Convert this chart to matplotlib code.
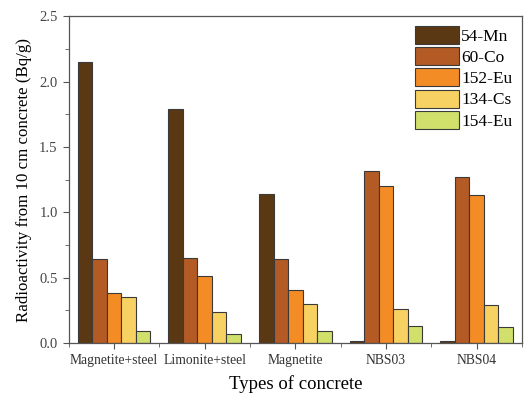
import numpy as np
import matplotlib
matplotlib.use('agg')
import matplotlib.pyplot as plt
from matplotlib.ticker import MultipleLocator, FixedLocator

concretes = ["Magnetite+steel", "Limonite+steel", "Magnetite", "NBS03", "NBS04"]
nuclides = ["54-Mn", "60-Co", "152-Eu", "134-Cs", "154-Eu"]
mn54 = [2.15, 1.79, 1.14, 0.02, 0.02]
co60 = [0.64, 0.65, 0.64, 1.32, 1.27]
eu152 = [0.38, 0.51, 0.41, 1.20, 1.13]
cs134 = [0.35, 0.24, 0.30, 0.26, 0.29]
eu154 = [0.09, 0.07, 0.09, 0.13, 0.12]
colors = ["#5b3814", "#b35a25", "#f48c26", "#f7d262", "#d0e06a"]

plt.rcParams['font.family'] = ['Liberation Serif', 'DejaVu Serif']

fig = plt.figure(figsize=(5.25, 3.94), dpi=100)
ax = fig.add_axes([0.131, 0.129, 0.863, 0.830])

x = np.arange(len(concretes))
w = 0.16
series = [mn54, co60, eu152, cs134, eu154]
for i, (vals, lab) in enumerate(zip(series, nuclides)):
    ax.bar(x + (i - 2) * w, vals, w, color=colors[i], edgecolor="#3a3a3a",
           linewidth=0.8, label=lab)

ax.set_xlim(-0.5, 4.5)
ax.set_ylim(0, 2.5)
ax.set_xticks(x)
ax.set_xticklabels(concretes, fontsize=9.8, color="#333333")
ax.xaxis.set_minor_locator(FixedLocator(np.arange(-0.5, 4.6, 1)))
ax.yaxis.set_major_locator(MultipleLocator(0.5))
ax.yaxis.set_minor_locator(MultipleLocator(0.25))
ax.tick_params(axis='y', labelsize=10.5, labelcolor="#444444")
ax.tick_params(which='both', direction='out', color="#555555")
ax.tick_params(which='major', length=4.5)
ax.tick_params(which='minor', length=3)
for s in ax.spines.values():
    s.set_color("#555555")
    s.set_linewidth(0.9)

ax.set_xlabel("Types of concrete", fontsize=13.5, labelpad=6)
ax.set_ylabel("Radioactivity from 10 cm concrete (Bq/g)", fontsize=12.2, labelpad=5)

ax.legend(loc='upper right', frameon=False, fontsize=12.5, handlelength=2.5,
          handleheight=1.22, labelspacing=0.14, handletextpad=0.15,
          borderaxespad=0.3, borderpad=0.25)

fig.savefig("out.png", dpi=100)
